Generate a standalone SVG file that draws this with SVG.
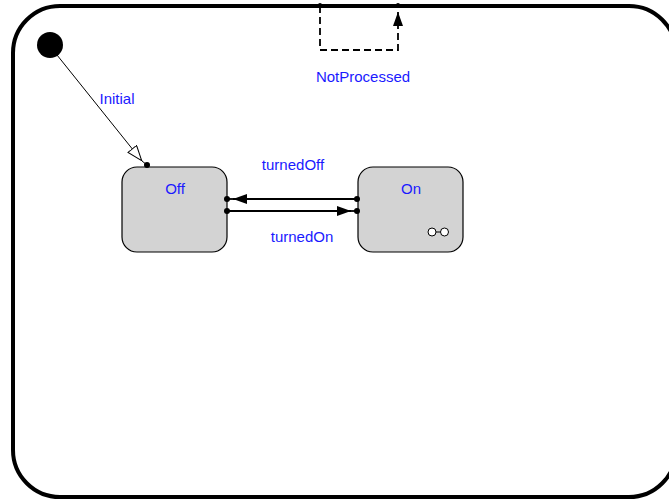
<svg xmlns="http://www.w3.org/2000/svg" width="669" height="500" viewBox="0 0 669 500">
  <style>
    .label { font-family: "Liberation Sans", Arial, sans-serif; font-size: 15px; fill: #1a1aff; text-anchor: middle; }
    .state rect { fill: #d3d3d3; stroke: #000; stroke-width: 1.2; }
    .edge { fill: none; stroke: #000; stroke-width: 1.8; }
    .thin { fill: none; stroke: #000; stroke-width: 1; }
    .dot { fill: #000; }
  </style>
  <defs>
    <marker id="filled" viewBox="0 0 14 10" refX="14" refY="5" markerWidth="14" markerHeight="10" markerUnits="userSpaceOnUse" orient="auto">
      <path d="M0,0 L14,5 L0,10 Z" fill="#000"/>
    </marker>
    <marker id="hollow" viewBox="0 0 16 12" refX="16" refY="6" markerWidth="16" markerHeight="12" markerUnits="userSpaceOnUse" orient="auto">
      <path d="M0.5,0.5 L15.5,6 L0.5,11.5 Z" fill="#fff" stroke="#000" stroke-width="1"/>
    </marker>
  </defs>

  <rect width="669" height="500" fill="#fff"/>

  <!-- enclosing state machine -->
  <g id="machine">
    <rect x="13" y="6" width="663" height="491" rx="47" ry="47" fill="none" stroke="#000" stroke-width="4"/>
  </g>

  <!-- initial pseudostate -->
  <g id="initial">
    <circle cx="50" cy="45" r="13" fill="#000"/>
  </g>

  <!-- states -->
  <g id="off" class="state">
    <rect x="122" y="167" width="105" height="85" rx="15" ry="15"/>
    <text class="label" x="175" y="194">Off</text>
  </g>
  <g id="on" class="state">
    <rect x="358" y="167" width="105" height="85" rx="15" ry="15"/>
    <text class="label" x="411" y="194">On</text>
    <line x1="432" y1="232" x2="444" y2="232" stroke="#000" stroke-width="1"/>
    <circle cx="432" cy="232" r="4" fill="#fff" stroke="#000" stroke-width="1"/>
    <circle cx="444.5" cy="232" r="4" fill="#fff" stroke="#000" stroke-width="1"/>
  </g>

  <!-- transitions -->
  <g id="connectors">
    <line class="thin" x1="57" y1="55" x2="142" y2="161" marker-end="url(#hollow)"/>
    <line class="thin" x1="142" y1="161" x2="147" y2="165"/>
    <circle class="dot" cx="147" cy="165" r="3"/>

    <line class="edge" x1="357" y1="199" x2="233" y2="199" marker-end="url(#filled)"/>
    <line class="edge" x1="233" y1="199" x2="227" y2="199"/>
    <circle class="dot" cx="227" cy="199" r="3"/>
    <circle class="dot" cx="357" cy="199" r="3"/>

    <line class="edge" x1="227" y1="211" x2="351" y2="211" marker-end="url(#filled)"/>
    <line class="edge" x1="351" y1="211" x2="357" y2="211"/>
    <circle class="dot" cx="227" cy="211" r="3"/>
    <circle class="dot" cx="357" cy="211" r="3"/>

    <path class="edge" d="M320,6 V50 H398 V12" stroke-width="1.4" stroke-dasharray="7,4" marker-end="url(#filled)"/>
    <circle class="dot" cx="320" cy="5" r="2"/>
    <circle class="dot" cx="398" cy="5" r="2"/>
  </g>

  <!-- transition labels -->
  <g id="labels">
    <text class="label" x="117" y="104">Initial</text>
    <text class="label" x="293" y="170">turnedOff</text>
    <text class="label" x="302" y="242">turnedOn</text>
    <text class="label" x="363" y="82">NotProcessed</text>
  </g>
</svg>
